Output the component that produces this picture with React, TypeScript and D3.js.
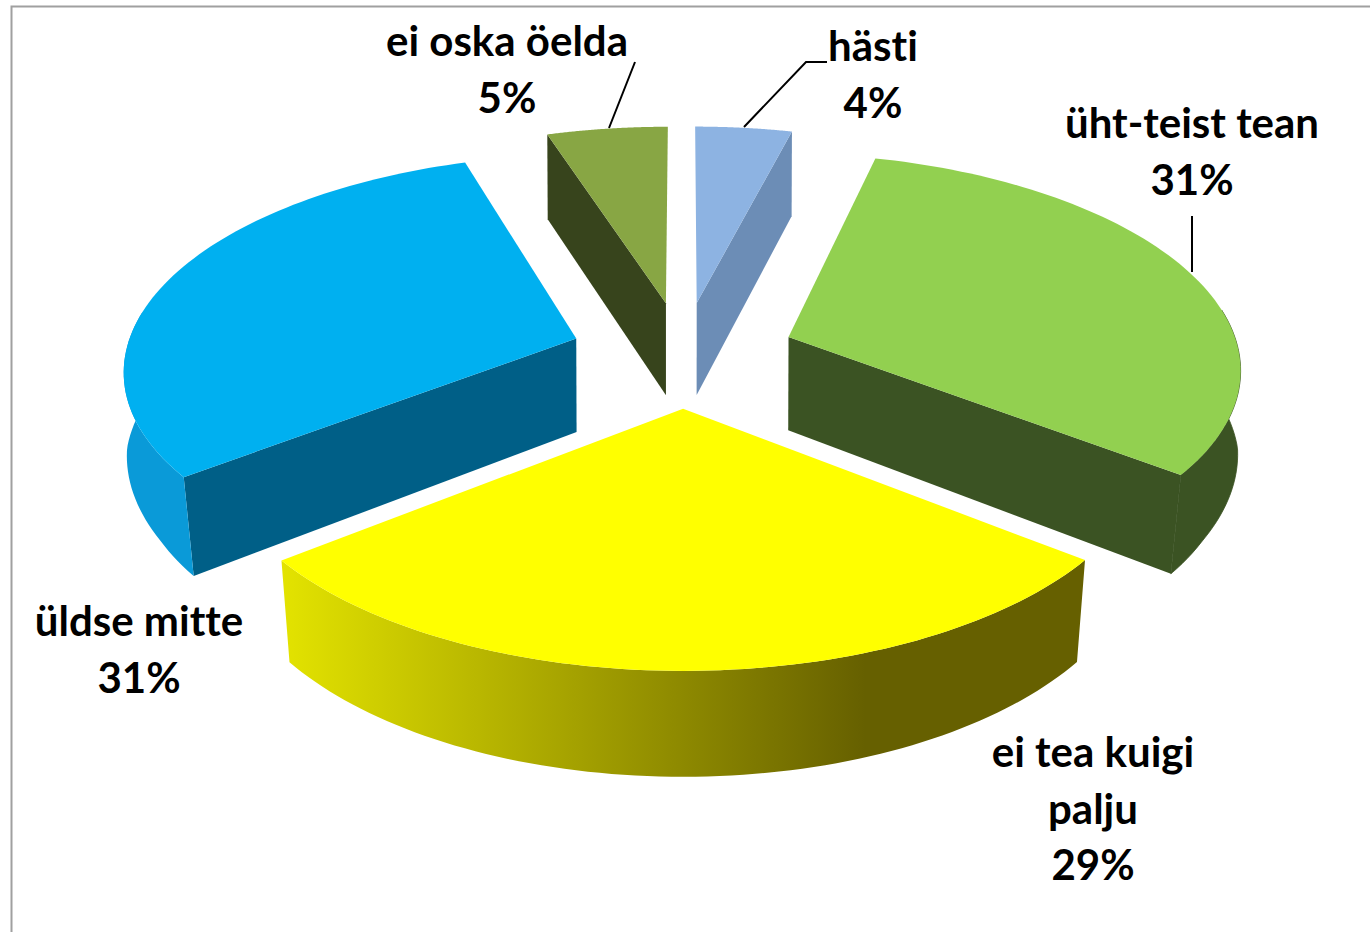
import React from "react";
import * as d3 from "d3";

// ---- data ----
const categoryLines: string[][] = [["hästi"], ["üht-teist tean"], ["ei tea kuigi", "palju"], ["üldse mitte"], ["ei oska öelda"]];
const values = [4, 31.49, 29, 30.51, 5];
const percentLabels = ["4%", "31%", "29%", "31%", "5%"];

const topColors = ["#8db3e2", "#92d050", "#ffff00", "#00b0f0", "#88a644"];
const faceColors = ["#6c8db6", "#3b5323", "#666600", "#005f87", "#37441c"];
const rimColors = ["#6c8db6", "#3b5323", "url(#yellowRim)", "#0a9ad8", "#37441c"];

// label layout: anchor x, first baseline y
const labelX = [873, 1192, 1093, 139, 507];
const labelY = [61, 138, 767, 636, 56];
const lineGap = 56.5;

const leaders = [
  [[827, 62], [806, 62], [744, 127]],
  [[1192, 216], [1192, 272]],
  [],
  [],
  [[635, 62], [609, 128]],
];

// projection of the tilted pie
const CX = 683, CY = 354, R = 451, RE = 212, K = 0.131, EXPLODE = 0.25;
const DEPTH = 94, DEPTH_K = 0.09;

function project(u: number, v: number, lower = false): [number, number] {
  const p = 1 / (1 + K * v);
  const shrink = 0.997 - 0.017 * Math.min(1, Math.max(0, -v / 0.4));
  const x = CX + R * u * p * (lower ? shrink : 1);
  const y = CY - RE * v * p + (lower ? DEPTH / (1 + DEPTH_K * v) : 0);
  return [x, y];
}

const pieGen = d3.pie<number>().sort(null).value((d) => d);
const arcs = pieGen(values);

const STEPS = 80;
function rimPoints(a0: number, a1: number, ex: number, ey: number, lower: boolean) {
  return d3.range(0, STEPS + 1).map((i) => {
    const a = a0 + ((a1 - a0) * i) / STEPS;
    return project(ex + Math.sin(a), ey + Math.cos(a), lower);
  });
}

const toPath = d3.line<[number, number]>();

export default function App() {
  // draw far slices first, nearest last
  const order = [0, 4, 1, 3, 2];
  return (
    <svg
      width={1370}
      height={932}
      viewBox="0 0 1370 932"
      style={{ position: "absolute", left: 0, top: 0, display: "block", background: "#fff" }}
    >
      <defs>
        <linearGradient id="yellowRim" gradientUnits="userSpaceOnUse" x1={283} x2={865} y1={0} y2={0}>
          <stop offset="0" stopColor="#e3e300" />
          <stop offset="1" stopColor="#666000" />
        </linearGradient>
      </defs>
      <path d="M1370 6.5H11.5V932" fill="none" stroke="#a0a0a0" strokeWidth={2} />
      {order.map((i) => {
        const d = arcs[i];
        const mid = (d.startAngle + d.endAngle) / 2;
        const ex = EXPLODE * Math.sin(mid);
        const ey = EXPLODE * Math.cos(mid);
        const topArc = rimPoints(d.startAngle, d.endAngle, ex, ey, false);
        const botArc = rimPoints(d.startAngle, d.endAngle, ex, ey, true);
        const apex = project(ex, ey);
        const apexB = project(ex, ey, true);
        // outward rim, only the part facing the viewer
        const front = d3.range(0, STEPS + 1).filter((j) => {
          const a = d.startAngle + ((d.endAngle - d.startAngle) * j) / STEPS;
          return Math.cos(a) < 0.15;
        });
        const rimT = front.map((j) => topArc[j]);
        const rimB = front.map((j) => botArc[j]);
        const rim = rimT.length ? toPath([...rimT, ...rimB.reverse()])! + "Z" : "";
        // radial wall seen for this slice: end edge on the right, start edge on the left
        let wall = "";
        if (i === 0 || i === 1) {
          wall = toPath([apex, topArc[STEPS], botArc[STEPS], apexB])! + "Z";
        } else if (i === 3 || i === 4) {
          wall = toPath([apex, topArc[0], botArc[0], apexB])! + "Z";
        }
        const top = toPath([apex, ...topArc])! + "Z";
        const rimStroke = i === 1 ? faceColors[1] : "none";
        return (
          <g key={i}>
            {wall && <path d={wall} fill={faceColors[i]} />}
            {rim && <path d={rim} fill={rimColors[i]} stroke={rimStroke} strokeWidth={0.8} />}
            <path d={top} fill={topColors[i]} />
          </g>
        );
      })}
      {leaders.map((pts, i) =>
        pts.length ? (
          <path key={i} d={toPath(pts as [number, number][])!} fill="none" stroke="#000" strokeWidth={2} />
        ) : null
      )}
      {categoryLines.map((lines, i) => (
        <text
          key={i}
          textAnchor="middle"
          fontFamily="Lato, 'Open Sans', sans-serif"
          fontWeight={700}
          fontSize={42}
          fill="#000"
          style={{ fontVariantLigatures: "none" }}
        >
          {[...lines, percentLabels[i]].map((t, j) => (
            <tspan key={j} x={labelX[i]} y={labelY[i] + j * lineGap}>
              {t}
            </tspan>
          ))}
        </text>
      ))}
    </svg>
  );
}
